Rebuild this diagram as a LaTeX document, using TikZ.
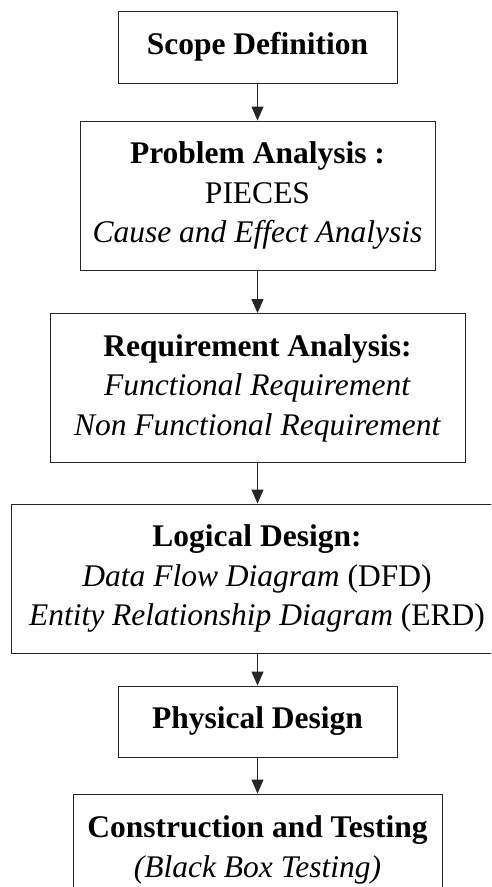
\documentclass[tikz,border=0pt]{standalone}
\usepackage{fontspec}
\setmainfont{Liberation Serif}
\usepackage{tikz}
\usetikzlibrary{arrows.meta,positioning}

\begin{document}
\begin{tikzpicture}[x=1pt,y=-1pt,
	stage/.style={draw=black!85,line width=0.9pt,align=center,inner sep=0pt,font=\fontsize{31.5}{39.5}\selectfont},
	flow/.style={-{Triangle[width=12pt,length=14pt]},draw=black!85,line width=0.9pt}]
	\useasboundingbox (0,0) rectangle (491,887);
	\clip (0,0) rectangle (491,887);
	\node [stage,minimum width=279pt,minimum height=72pt] (scope) at (257.5,47) {\textbf{Scope Definition}};
	\node [stage,minimum width=355pt,minimum height=149pt] (problem) at (257.5,195.5) {\textbf{Problem Analysis :}\\PIECES\\\textit{Cause and Effect Analysis}};
	\node [stage,minimum width=415pt,minimum height=149pt] (requirement) at (257.5,388) {\textbf{Requirement Analysis:}\\\textit{Functional Requirement}\\\textit{Non Functional Requirement}};
	\node [stage,minimum width=492pt,minimum height=149pt] (logical) at (257,578.5) {\textbf{Logical Design:}\\\textit{Data Flow Diagram} (DFD)\\\textit{Entity Relationship Diagram} (ERD)};
	\node [stage,minimum width=279pt,minimum height=71pt] (physical) at (257.5,721.5) {\textbf{Physical Design}};
	\node [stage,minimum width=369pt,minimum height=112pt] (construction) at (257.5,850) {\textbf{Construction and Testing}\\\textit{(Black Box Testing)}};
	\draw [flow] (scope) -- (problem);
	\draw [flow] (problem) -- (requirement);
	\draw [flow] (requirement.south) -- (requirement.south |- logical.north);
	\draw [flow] (physical.north |- logical.south) -- (physical);
	\draw [flow] (physical) -- (construction);
\end{tikzpicture}
\end{document}
